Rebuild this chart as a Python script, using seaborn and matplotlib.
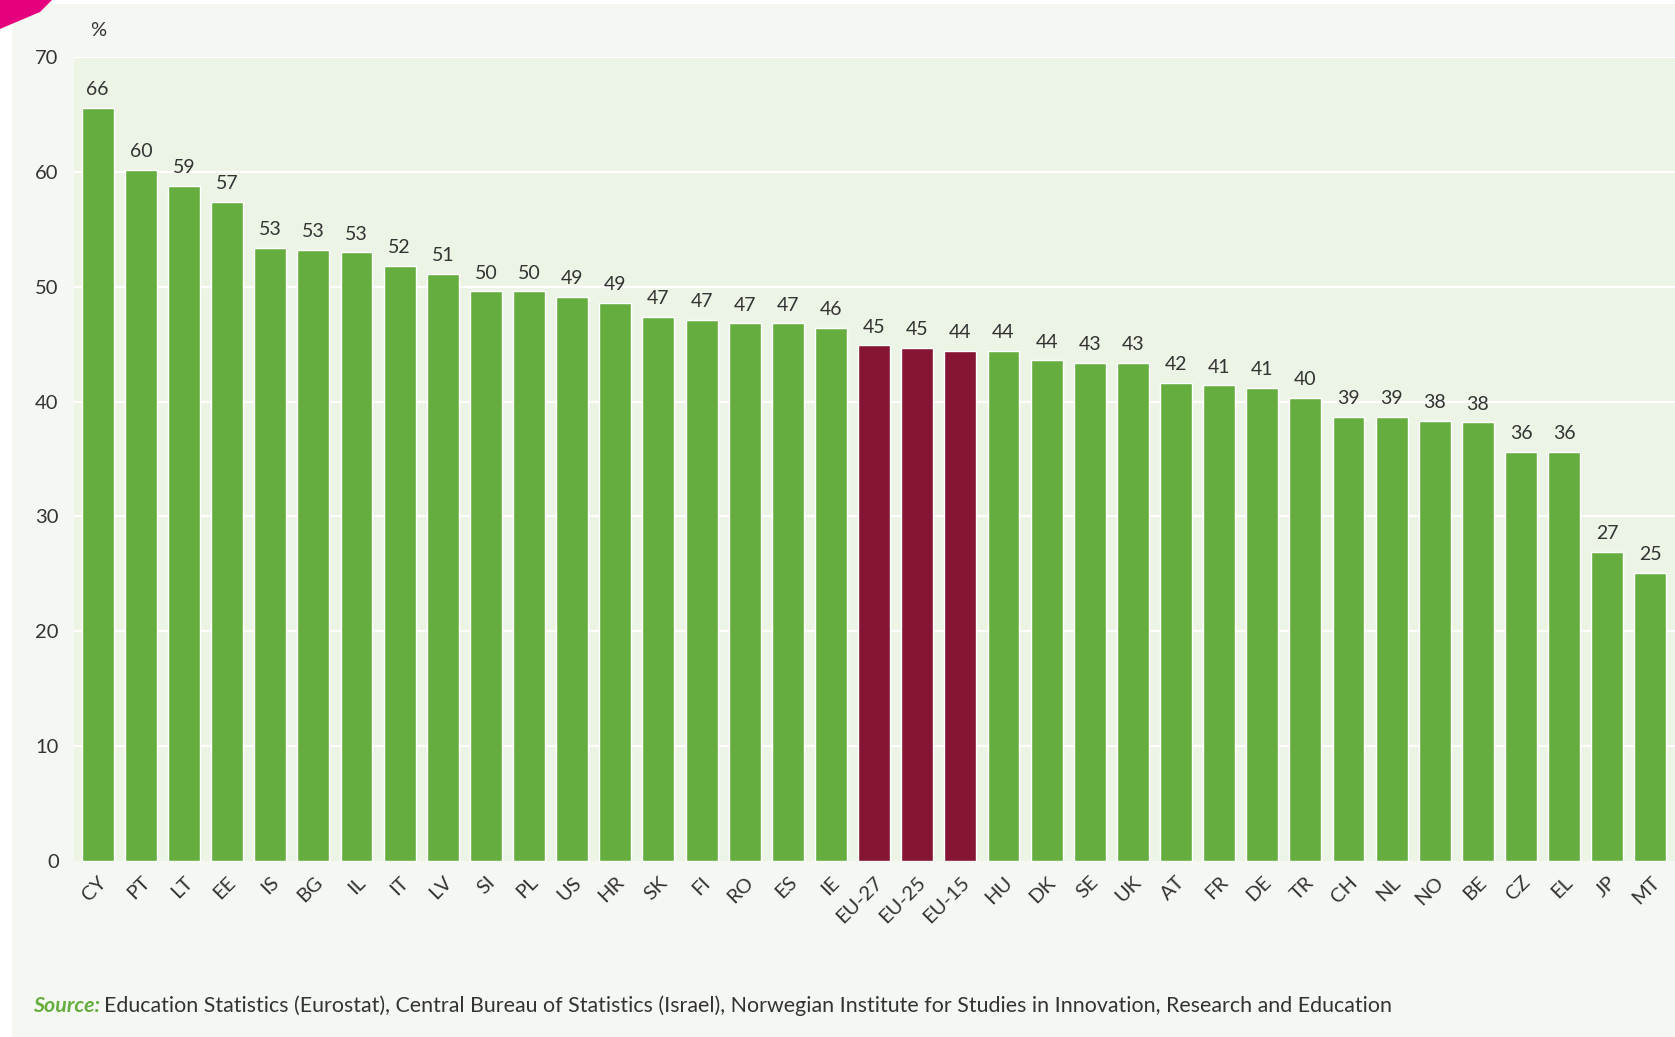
import matplotlib
matplotlib.use("Agg")
import matplotlib.pyplot as plt
from matplotlib.patches import Rectangle, Polygon
import seaborn as sns
import pandas as pd

# Share of tertiary graduates (%), by country
countries = ["CY", "PT", "LT", "EE", "IS", "BG", "IL", "IT", "LV", "SI", "PL", "US",
             "HR", "SK", "FI", "RO", "ES", "IE", "EU-27", "EU-25", "EU-15", "HU",
             "DK", "SE", "UK", "AT", "FR", "DE", "TR", "CH", "NL", "NO", "BE", "CZ",
             "EL", "JP", "MT"]
values = [65.6, 60.2, 58.8, 57.4, 53.4, 53.2, 53.0, 51.8, 51.1, 49.6, 49.6, 49.1,
          48.6, 47.4, 47.1, 46.8, 46.8, 46.4, 44.9, 44.7, 44.4, 44.4,
          43.6, 43.4, 43.4, 41.6, 41.4, 41.2, 40.3, 38.7, 38.7, 38.3, 38.2, 35.6,
          35.6, 26.9, 25.1]
aggregates = ["EU-27", "EU-25", "EU-15"]
y_ticks = [0, 10, 20, 30, 40, 50, 60, 70]

GREEN = "#66ad3f"
WINE = "#861433"
PLOT_BG = "#ecf4e6"
PANEL_BG = "#f5f8f2"
TEXT = "#333333"

sns.set_theme(style="white")
plt.rcParams["font.family"] = ["Lato", "DejaVu Sans"]

df = pd.DataFrame({"country": countries, "value": values})
colors = {c: (WINE if c in aggregates else GREEN) for c in countries}

W, H = 1675, 1037
fig = plt.figure(figsize=(W / 100, H / 100), dpi=100)
fig.patch.set_facecolor("white")

# light panel behind the whole chart
fig.patches.append(Rectangle((12 / W, 0), 1 - 12 / W, 1 - 4 / H,
                             transform=fig.transFigure, facecolor=PANEL_BG,
                             edgecolor="none", zorder=-5))
# magenta corner mark
fig.patches.append(Polygon([(0, 1), (52 / W, 1), (40 / W, 1 - 12 / H),
                            (14 / W, 1 - 23 / H), (0, 1 - 29 / H)],
                           closed=True, transform=fig.transFigure,
                           facecolor="#e5007d", edgecolor="none", zorder=-4))

ax = fig.add_axes([74 / W, 1 - 861 / H, 1 - 74 / W, (861 - 57) / H])
ax.set_zorder(2)
ax.set_facecolor(PLOT_BG)

sns.barplot(data=df, x="country", y="value", hue="country", palette=colors,
            legend=False, width=0.74, ax=ax, zorder=3, saturation=1)

ax.set_xlim(-0.55, len(countries) - 0.43)
ax.set_ylim(0, 70)
ax.set_yticks(y_ticks)
ax.set_yticklabels([str(t) for t in y_ticks])
for t in y_ticks[1:]:
    ax.axhline(t, color="white", lw=1.6, zorder=1)

for s in ax.spines.values():
    s.set_visible(False)

ax.set_xlabel("")
ax.set_ylabel("")
ax.tick_params(axis="y", length=0, pad=11, labelsize=14.5, labelcolor=TEXT)
ax.tick_params(axis="x", length=0, pad=9, labelsize=14.5, labelcolor=TEXT)
for lab in ax.get_xticklabels():
    lab.set_rotation(45)
    lab.set_ha("right")
    lab.set_rotation_mode("anchor")

for i, v in enumerate(values):
    ax.annotate(f"{v:.0f}", (i, v), xytext=(0, 7), textcoords="offset points",
                ha="center", va="bottom", fontsize=14, color=TEXT)

fig.text(98 / W, 1 - 31 / H, "%", ha="center", va="center",
         fontsize=14.5, color=TEXT)

src_label = fig.text(33 / W, 1 - 1006 / H, "Source:", ha="left", va="center",
                     fontsize=15.4, color=GREEN, fontweight="bold", fontstyle="italic")
fig.canvas.draw()
x_end = src_label.get_window_extent().x1 / W
fig.text(x_end + 4 / W, 1 - 1006 / H,
         "Education Statistics (Eurostat), Central Bureau of Statistics (Israel), "
         "Norwegian Institute for Studies in Innovation, Research and Education",
         ha="left", va="center", fontsize=15.4, color=TEXT)

fig.savefig("out.png", dpi=100, facecolor=fig.get_facecolor())
